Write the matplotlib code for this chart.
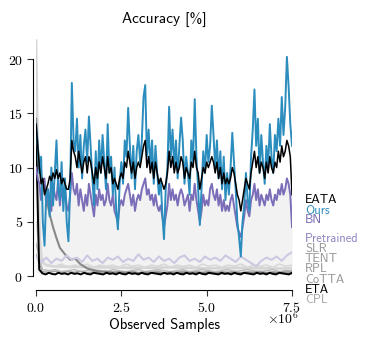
import numpy as np
import matplotlib
matplotlib.use('Agg')
import matplotlib.pyplot as plt
from matplotlib.ticker import FuncFormatter

plt.rcParams['mathtext.fontset'] = 'cm'

# accuracy [%] over observed samples (sampled evenly over 0 .. 7.5e6)
ours = [14.0, 12.0, 9.5, 11.0, 5.0, 2.8, 7.5, 8.0, 5.5, 10.0,
        6.5, 9.5, 12.5, 8.0, 7.0, 10.5, 6.0, 9.0, 5.0, 3.2,
        8.0, 17.8, 12.5, 11.5, 14.5, 10.0, 13.0, 9.0, 12.0, 13.5,
        10.5, 14.7, 12.0, 9.0, 6.5, 11.5, 8.0, 12.5, 9.5, 13.0,
        10.5, 8.0, 14.0, 9.5, 11.0, 7.5, 10.0, 6.0, 4.3, 8.5,
        10.5, 8.5, 12.5, 11.0, 15.5, 12.0, 9.0, 12.0, 8.0, 11.5,
        13.0, 10.5, 12.5, 16.5, 17.6, 11.0, 13.5, 10.0, 12.5, 8.5,
        12.0, 9.5, 7.5, 9.0, 5.8, 3.4, 8.0, 10.0, 15.6, 11.0,
        13.5, 10.0, 12.5, 9.0, 12.0, 14.6, 12.5, 8.5, 11.0, 9.5,
        7.5, 12.5, 10.5, 16.3, 11.0, 8.0, 4.7, 8.0, 11.5, 9.5,
        13.0, 10.5, 12.0, 15.7, 13.0, 10.0, 12.5, 9.0, 11.5, 8.0,
        11.0, 7.0, 9.5, 7.5, 10.0, 13.2, 10.5, 8.0, 5.0, 3.5,
        1.8, 5.0, 6.5, 9.5, 7.0, 6.0, 11.0, 13.5, 17.2, 12.0,
        14.5, 9.5, 13.0, 10.5, 8.5, 12.0, 10.0, 14.0, 11.0, 9.5,
        13.0, 11.5, 14.5, 12.0, 16.5, 13.0, 15.5, 20.2, 17.5, 14.0,
        12.0]
eata = [14.0, 12.0, 10.0, 8.5, 9.0, 7.5, 8.0, 8.5, 9.2, 8.8,
        9.5, 9.0, 9.8, 9.0, 9.5, 8.5, 9.0, 8.5, 8.0, 8.0,
        9.0, 12.5, 11.5, 11.0, 10.0, 11.5, 10.5, 9.5, 10.5, 11.0,
        9.5, 11.0, 10.5, 9.5, 8.5, 10.0, 9.0, 10.5, 9.5, 11.0,
        10.0, 9.0, 11.0, 9.5, 10.0, 8.5, 9.0, 8.5, 8.0, 9.0,
        9.5, 9.0, 10.5, 10.0, 11.5, 10.5, 9.5, 10.5, 9.0, 10.0,
        10.5, 10.0, 11.0, 12.0, 12.5, 10.0, 11.0, 9.5, 10.5, 9.0,
        10.5, 9.5, 8.5, 9.0, 8.5, 8.0, 8.5, 9.5, 11.5, 10.0,
        11.0, 9.5, 10.5, 9.5, 10.0, 11.0, 10.5, 9.0, 10.0, 9.5,
        9.0, 10.5, 10.0, 11.5, 10.0, 9.5, 8.0, 9.0, 10.0, 9.5,
        10.5, 10.0, 10.5, 11.0, 10.5, 9.5, 10.5, 9.0, 10.0, 8.5,
        9.5, 8.5, 9.0, 8.5, 9.0, 10.0, 9.5, 8.5, 7.5, 7.0,
        6.0, 7.0, 8.0, 9.0, 8.5, 8.0, 9.5, 10.5, 11.5, 10.0,
        11.0, 9.5, 10.5, 10.0, 9.0, 10.5, 9.5, 11.0, 10.0, 9.5,
        10.5, 10.0, 11.5, 10.5, 12.0, 11.0, 11.5, 12.5, 12.0, 11.0,
        7.5]
bn = [10.0, 9.0, 8.5, 7.0, 8.0, 9.0, 6.5, 8.0, 7.0, 6.0,
      8.5, 7.5, 7.0, 9.0, 6.5, 8.0, 7.0, 8.0, 6.5, 6.0,
      7.5, 9.5, 8.0, 7.5, 8.5, 6.5, 8.0, 7.0, 6.0, 7.5,
      6.5, 8.5, 7.5, 6.5, 5.5, 7.5, 6.5, 8.0, 7.0, 7.5,
      6.5, 7.0, 8.5, 7.0, 6.5, 7.5, 6.0, 5.5, 5.0, 6.5,
      7.0, 6.5, 7.5, 8.0, 8.5, 7.5, 6.5, 7.5, 6.0, 7.0,
      7.5, 7.0, 8.0, 8.5, 9.0, 7.5, 8.0, 7.0, 7.5, 6.5,
      7.5, 6.5, 6.0, 6.5, 5.5, 4.5, 5.5, 6.5, 8.5, 7.0,
      8.0, 7.0, 7.5, 6.5, 7.5, 8.0, 7.5, 6.5, 7.0, 7.5,
      6.0, 7.5, 7.0, 8.5, 7.0, 6.0, 5.0, 6.0, 7.5, 6.5,
      7.0, 6.5, 8.0, 8.5, 7.5, 7.0, 8.0, 6.5, 7.5, 6.0,
      7.0, 6.0, 6.5, 6.0, 7.0, 7.5, 6.5, 5.5, 4.5, 4.0,
      3.6, 4.5, 5.5, 7.0, 6.0, 5.5, 7.0, 7.5, 8.5, 7.0,
      8.0, 6.5, 7.5, 7.0, 6.5, 7.5, 7.0, 8.0, 7.0, 6.5,
      7.5, 7.0, 8.0, 7.5, 8.5, 7.5, 8.0, 9.0, 8.5, 7.5,
      4.5]
pretrained = [1.8, 1.3, 1.7, 1.2, 1.6, 1.4, 1.9, 1.5, 1.7, 1.3,
              1.9, 1.4, 1.6, 1.2, 1.7, 1.5, 1.8, 1.3, 1.6, 1.4,
              2.0, 1.5, 1.7, 1.3, 1.8, 1.4, 1.6, 1.2, 1.7, 1.9,
              1.4, 1.6, 1.3, 1.8, 1.5, 1.7, 1.4, 1.9, 1.6, 1.3,
              1.8, 1.5, 1.2, 0.9, 1.4, 1.7, 1.5, 1.8, 1.4, 1.9,
              2.2]
rpl = [5.0, 1.2, 1.0, 0.9, 1.1, 0.8, 1.0, 0.9, 1.1, 0.8,
       1.0, 0.9, 1.0, 0.8, 1.1, 0.9, 1.0, 0.8, 1.0, 0.9,
       1.1, 0.8, 1.0, 0.9, 1.0, 0.8, 1.1, 0.9, 1.0, 0.8,
       1.0, 0.9, 1.1, 0.8, 1.0, 0.9, 1.0, 0.8, 1.1, 0.9,
       1.0]
slr = [3.0, 0.6, 0.5, 0.6, 0.4, 0.5, 0.6, 0.4, 0.5, 0.6,
       0.5, 0.4, 0.6, 0.5, 0.4, 0.5, 0.6, 0.4, 0.5, 0.6,
       0.5, 0.4, 0.5, 0.6, 0.4, 0.5, 0.6, 0.5, 0.4, 0.5,
       0.6, 0.4, 0.5, 0.6, 0.5, 0.4, 0.5, 0.6, 0.4, 0.5,
       0.5]
cotta = [2.0, 0.4, 0.35, 0.45, 0.3, 0.4, 0.35, 0.45, 0.3, 0.4,
         0.35, 0.45, 0.3, 0.4, 0.35, 0.45, 0.3, 0.4, 0.35, 0.45,
         0.3, 0.4, 0.35, 0.45, 0.3, 0.4, 0.35, 0.45, 0.3, 0.4,
         0.35, 0.45, 0.3, 0.4, 0.35, 0.45, 0.3, 0.4, 0.35, 0.45,
         0.4]
eta = [13.0, 0.6, 0.25, 0.15, 0.3, 0.2, 0.15, 0.3, 0.2, 0.25,
       0.15, 0.3, 0.2, 0.25, 0.15, 0.3, 0.2, 0.15, 0.3, 0.25,
       0.2, 0.15, 0.3, 0.2, 0.25, 0.15, 0.3, 0.2, 0.15, 0.3,
       0.2, 0.25, 0.15, 0.3, 0.2, 0.15, 0.3, 0.25, 0.2, 0.15,
       0.3, 0.2, 0.25, 0.15, 0.3, 0.2, 0.15, 0.3, 0.2, 0.25,
       0.15, 0.3, 0.2, 0.15, 0.3, 0.25, 0.2, 0.15, 0.3, 0.2,
       0.25, 0.15, 0.3, 0.2, 0.15, 0.3, 0.25, 0.2, 0.15, 0.3,
       0.2, 0.25, 0.15, 0.3, 0.2, 0.15, 0.3, 0.25, 0.2, 0.15,
       0.3]
# series that collapse early, sampled at their own positions (x 1e6)
tent_x = [0.0, 0.05, 0.12, 0.2, 0.3, 0.4, 0.5, 0.6, 0.7, 0.85, 1.0,
          1.15, 1.3, 1.5, 1.8, 2.2, 2.6, 3.5, 4.5, 5.5, 6.5, 7.5]
tent = [14.5, 12.0, 9.8, 8.6, 7.2, 5.7, 4.5, 3.5, 2.6, 2.0, 1.5,
        1.6, 1.1, 0.7, 0.45, 0.35, 0.3, 0.28, 0.3, 0.25, 0.3, 0.25]
cpl_x = [0.0, 0.02, 0.04, 0.06, 0.09, 0.12, 0.16, 0.22, 0.3, 0.5,
         1.0, 2.0, 3.0, 4.0, 5.0, 6.0, 7.0, 7.5]
cpl = [21.7, 18.0, 14.0, 9.5, 5.5, 3.0, 1.8, 1.2, 1.0, 0.9,
       0.85, 0.8, 0.75, 0.8, 0.7, 0.75, 0.7, 0.7]

labels = ['EATA', 'Ours', 'BN', 'Pretrained', 'SLR', 'TENT', 'RPL',
          'CoTTA', 'ETA', 'CPL']
label_y = [7.0, 6.0, 5.15, 3.4, 2.5, 1.6, 0.65, -0.35, -1.3, -2.2]
label_colors = ['black', '#2b8cbe', '#756bb1', '#8f88c6', '#999999',
                '#999999', '#999999', '#999999', 'black', '#aaaaaa']


def xs(vals):
    return np.linspace(0, 7.5e6, len(vals))


fig = plt.figure(figsize=(3.84, 3.37), dpi=100)
ax = fig.add_axes([0.09375, 0.1712, 0.6667, 0.7116])

ax.fill_between(xs(bn), 0.25, bn, color='#f2f2f2', lw=0, zorder=0)
ax.plot(np.array(cpl_x) * 1e6, cpl, color='#d4d4d4', lw=1.8, zorder=1)
ax.plot(xs(rpl), rpl, color='#d9d9d9', lw=1.3, zorder=1)
ax.plot(xs(slr), slr, color='#bdbdbd', lw=1.0, zorder=1)
ax.plot(xs(cotta), cotta, color='#a6a6a6', lw=1.0, zorder=1)
ax.plot(np.array(tent_x) * 1e6, tent, color='#888888', lw=1.5, zorder=2)
ax.plot(xs(pretrained), pretrained, color='#cbc9e2', lw=1.5, zorder=2)
ax.plot(xs(eta), eta, color='black', lw=1.4, zorder=3)
ax.plot(xs(bn), bn, color='#7b6db8', lw=1.4, zorder=4)
ax.plot(xs(ours), ours, color='#2b8cbe', lw=1.4, zorder=5)
ax.plot(xs(eata), eata, color='black', lw=1.1, zorder=6)

for name, yv, c in zip(labels, label_y, label_colors):
    ax.text(7.88e6, yv, name, color=c, fontsize=9, family='cmss10',
            va='center', ha='left', clip_on=False)

ax.set_xlim(0, 7.5e6)
ax.set_ylim(-0.3, 21.8)
ax.set_xticks([0, 2.5e6, 5e6, 7.5e6])
ax.set_yticks([0, 5, 10, 15, 20])
ax.xaxis.set_major_formatter(FuncFormatter(lambda v, p: '$%.1f$' % (v / 1e6)))
ax.yaxis.set_major_formatter(FuncFormatter(lambda v, p: '$%d$' % v))
ax.tick_params(labelsize=10, length=4, width=0.8, color='#333333')
ax.tick_params(axis='x', pad=4)
ax.tick_params(axis='y', pad=3)
for s in ['top', 'right']:
    ax.spines[s].set_visible(False)
ax.spines['left'].set_bounds(0, 20)
ax.spines['left'].set_position(('outward', 2.5))
ax.spines['bottom'].set_bounds(0, 7.5e6)
ax.spines['bottom'].set_position(('outward', 7.5))
ax.text(0.965, -0.165, r'$\times10^{6}$', transform=ax.transAxes,
        fontsize=10, ha='center', va='center')

ax.set_title('Accuracy [%]', fontsize=11, family='cmss10', pad=12)
ax.set_xlabel('Observed Samples', fontsize=10.5, family='cmss10', labelpad=2)

plt.savefig('out.png', dpi=100)
